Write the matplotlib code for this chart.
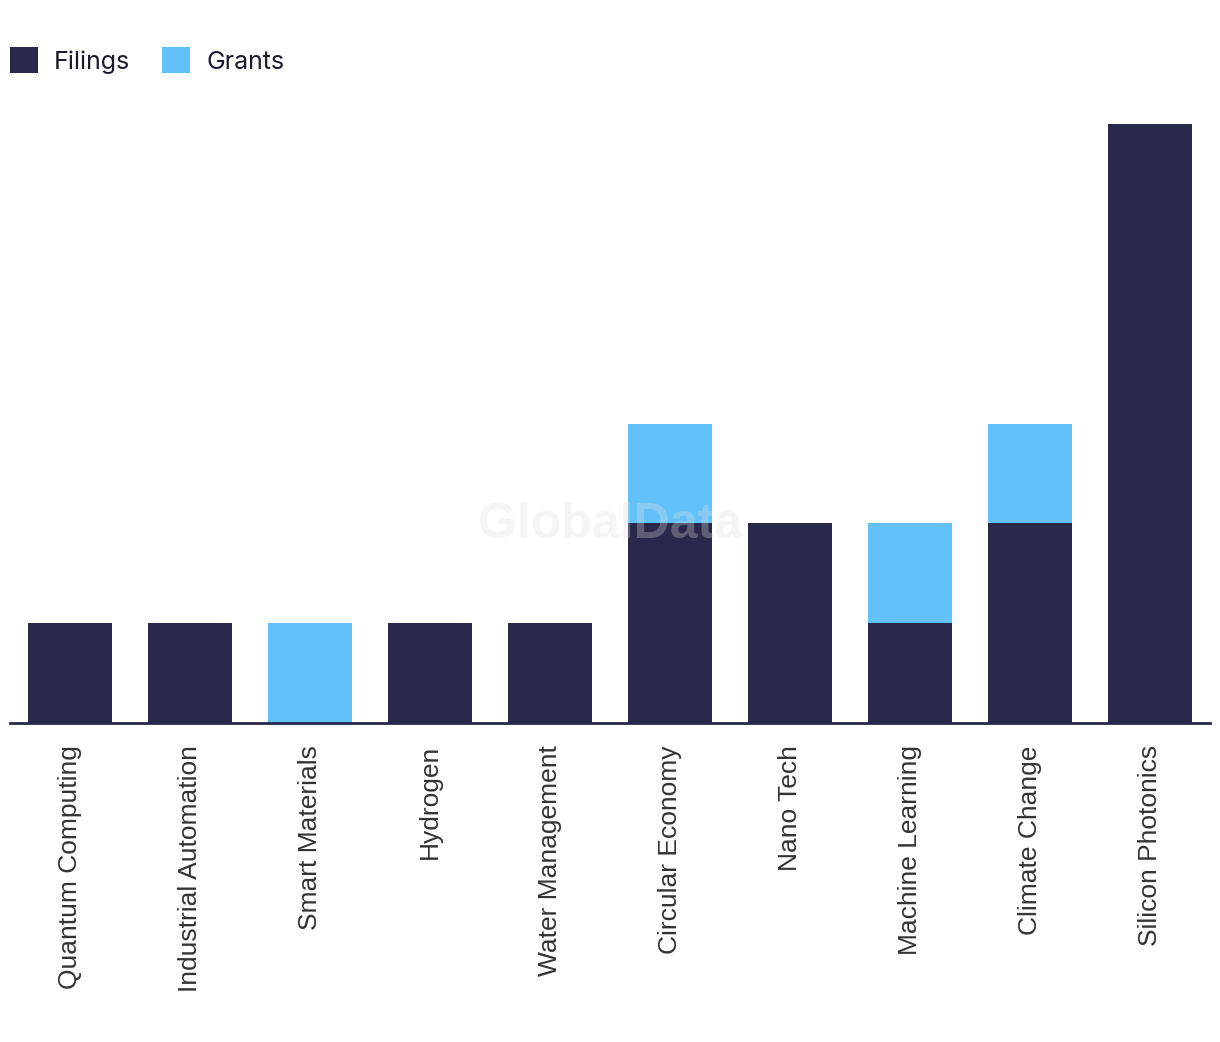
import matplotlib.pyplot as plt
import numpy as np

categories = ["Quantum Computing", "Industrial Automation", "Smart Materials", "Hydrogen",
              "Water Management", "Circular Economy", "Nano Tech", "Machine Learning",
              "Climate Change", "Silicon Photonics"]
filings = [1, 1, 0, 1, 1, 2, 2, 1, 2, 6]
grants = [0, 0, 1, 0, 0, 1, 0, 1, 1, 0]

dark = "#27284a"
light = "#62c1f9"

fig = plt.figure(figsize=(12.2, 10.42), dpi=100)
ax = fig.add_axes([10 / 1220, 319 / 1042, 1200 / 1220, 599 / 1042])

x = np.arange(len(categories))
ax.bar(x, filings, width=0.7, color=dark, label="Filings", zorder=2)
ax.bar(x, grants, width=0.7, bottom=filings, color=light, label="Grants", zorder=2)

ax.set_xlim(-0.5, len(categories) - 0.5)
ax.set_ylim(0, 6)
for s in ["top", "right", "left"]:
    ax.spines[s].set_visible(False)
ax.spines["bottom"].set_color(dark)
ax.spines["bottom"].set_linewidth(2)
ax.set_yticks([])
ax.set_xticks(x)
ax.set_xticklabels(categories, rotation=90, fontsize=19, family="Liberation Sans", color="#333333")
ax.tick_params(axis="x", length=0, pad=16)
for lbl in ax.get_xticklabels():
    lbl.set_x(lbl.get_position()[0])

# watermark
ax.text(0.5, 0.33, "GlobalData", transform=ax.transAxes, ha="center", va="center",
        fontsize=36, fontweight="bold", color="#e0e0e0", alpha=0.3, zorder=3,
        family="Liberation Sans")

leg = fig.legend(loc="upper left", bbox_to_anchor=(10 / 1220, 0.955), ncol=2, frameon=False,
                 prop={"family": "Inter", "size": 18}, handlelength=1.12, handleheight=1.25,
                 columnspacing=1.25, handletextpad=0.65, borderpad=0, borderaxespad=0)
for t in leg.get_texts():
    t.set_color("#1a1a2e")

fig.savefig("out.png", dpi=100)
